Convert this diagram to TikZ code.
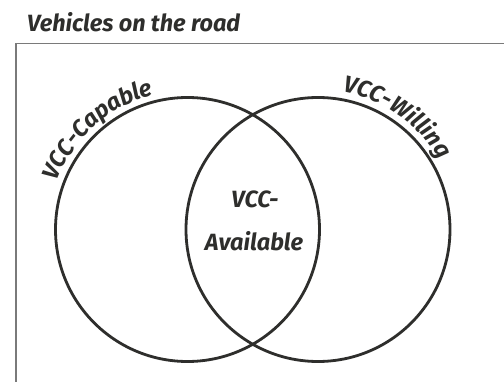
\documentclass[tikz,border=0pt]{standalone}
\usepackage{fontspec}
\setmainfont{Fira Sans}
\usetikzlibrary{decorations.text}
\definecolor{ink}{HTML}{2E2E2C}
\definecolor{framegray}{HTML}{7A7A7A}
\tikzset{
  venn/.style={draw=ink, line width=2.8pt},
  lbl/.style={font=\fontsize{23.5}{26}\selectfont\bfseries\itshape, text=ink, inner sep=0pt},
  arclbl/.style={decorate, decoration={text along path, text align=center,
     text={|\fontsize{23.5}{26}\selectfont\bfseries\itshape\color{ink}|#1}}}
}
\begin{document}
\begin{tikzpicture}[x=1pt,y=1pt]
\useasboundingbox (0,0) rectangle (504,381);
\fill[white] (0,0) rectangle (504,381);
\begin{scope}
\clip (0,0) rectangle (504,381);
\draw[framegray, line width=1.8pt] (16,-10) -- (16,337.5) -- (520,337.5);
\end{scope}
\node[lbl, anchor=base west] (title) at (27,349) {Vehicles on the road};
\coordinate (L) at (187.5,151.5);
\coordinate (R) at (318,151.5);
\node[venn, circle, minimum size=264pt, inner sep=0pt] (cap) at (L) {};
\node[venn, circle, minimum size=264pt, inner sep=0pt] (wil) at (R) {};
\path[arclbl={VCC-Capable}, shift={(L)}] (191:139) arc[start angle=191, end angle=73, radius=139];
\path[arclbl={VCC-Willing}, shift={(R)}] (116:140) arc[start angle=116, end angle=-6, radius=140];
\node[lbl, anchor=base] (vcc) at (255,173) {VCC-};
\node[lbl, anchor=base] (av) at (254,131) {Available};
\end{tikzpicture}
\end{document}
